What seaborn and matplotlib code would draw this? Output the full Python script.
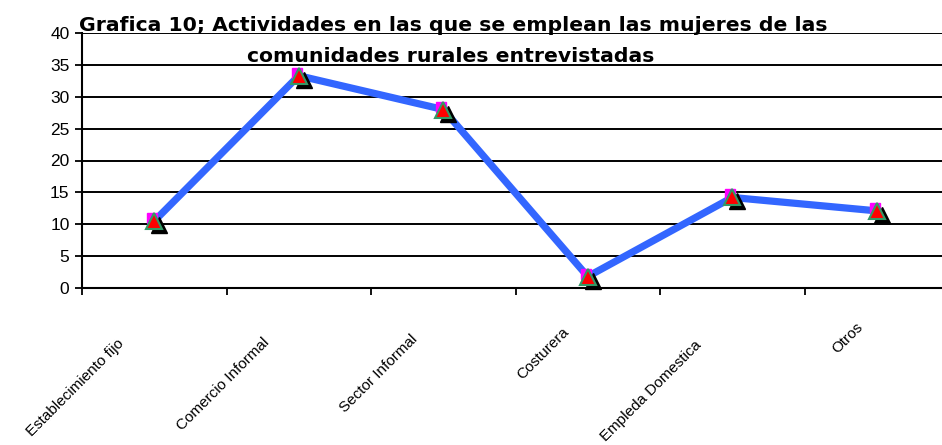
import matplotlib
matplotlib.use("Agg")
import matplotlib.pyplot as plt
import matplotlib.transforms as mtransforms
import seaborn as sns
import pandas as pd

categories = ["Establecimiento fijo", "Comercio Informal", "Sector Informal",
              "Costurera", "Empleda Domestica", "Otros"]
values = [10.5, 33.3, 28.0, 1.8, 14.2, 12.1]
yticks = [0, 5, 10, 15, 20, 25, 30, 35, 40]
title_lines = ["Grafica 10; Actividades en las que se emplean las mujeres de las",
               "comunidades rurales entrevistadas"]

sns.set_theme(style="white")
plt.rcParams['font.family'] = ['Liberation Sans', 'DejaVu Sans']
plt.rcParams['text.color'] = 'black'
plt.rcParams['xtick.color'] = 'black'
plt.rcParams['ytick.color'] = 'black'

W, H, DPI = 942, 445, 100
fig = plt.figure(figsize=(W / DPI, H / DPI), dpi=DPI)
ax = fig.add_axes([82 / W, 1 - 288 / H, 867 / W, 255 / H])

df = pd.DataFrame({"pos": range(len(categories)), "val": values})
sns.lineplot(data=df, x="pos", y="val", ax=ax, color="#3366FF", linewidth=5.2,
             solid_capstyle="butt", zorder=3)

def off(dx, dy):
    return ax.transData + mtransforms.ScaledTranslation(dx / DPI, -dy / DPI, fig.dpi_scale_trans)

x = df["pos"].values
ax.plot(x, values, linestyle="none", marker="^", markersize=11, color="black",
        transform=off(5, 4), zorder=4, clip_on=False)
ax.plot(x, values, linestyle="none", marker="s", markersize=7, color="#FF00FF",
        markeredgecolor="#FF00FF", transform=off(-2, -3), zorder=5, clip_on=False)
ax.plot(x, values, linestyle="none", marker="^", markersize=11, color="#FF0000",
        markeredgecolor="#339966", markeredgewidth=1.5, transform=off(0, 0),
        zorder=6, clip_on=False)

ax.set_xlim(-0.5, len(categories) - 0.5)
ax.set_ylim(0, 40)
ax.set_yticks(yticks)
ax.set_yticklabels([str(v) for v in yticks], fontsize=12.5, color="black")
ax.set_xticks([i - 0.5 for i in range(len(categories) + 1)])
ax.set_xticklabels([])
ax.tick_params(axis="both", direction="out", length=5, width=1.3, color="black",
               bottom=True, left=True, pad=4)
ax.set_xlabel("")
ax.set_ylabel("")
ax.grid(axis="y", color="black", linewidth=1.4)
ax.set_axisbelow(True)
for s in ["left", "bottom"]:
    ax.spines[s].set_color("black")
    ax.spines[s].set_linewidth(1.5)
for s in ["top", "right"]:
    ax.spines[s].set_visible(False)

# rotated category labels
renderer = fig.canvas.get_renderer()
for i, lab in enumerate(categories):
    t = ax.text(i, 0, lab, fontsize=11, rotation=45, rotation_mode="anchor",
                ha="right", va="center", color="black")
    t.set_rotation(0)
    L = t.get_window_extent(renderer).width
    t.set_rotation(45)
    dx = -9 - 0.18 * L
    dy = 30 + 0.18 * L
    t.set_transform(ax.transData + mtransforms.ScaledTranslation(dx / DPI, -dy / DPI, fig.dpi_scale_trans))
    t.set_clip_on(False)

fig.text(453 / W, 1 - 31 / H, title_lines[0], ha="center", va="baseline",
         fontsize=14.7, fontweight="bold", family="DejaVu Sans", color="black")
fig.text(451 / W, 1 - 62 / H, title_lines[1], ha="center", va="baseline",
         fontsize=14.7, fontweight="bold", family="DejaVu Sans", color="black")

fig.savefig("out.png", dpi=DPI)
